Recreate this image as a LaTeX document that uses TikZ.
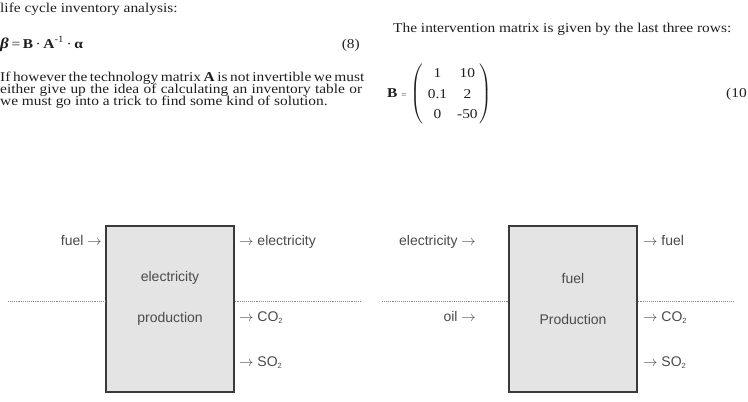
\documentclass[tikz,border=0pt]{standalone}
\usepackage{fontspec}
\usepackage{amsmath}
\usepackage{xcolor}
\setmainfont{Liberation Serif}[FakeStretch=1.14]
\newfontfamily\labelfont{Liberation Sans}
\definecolor{boxgray}{HTML}{E4E4E4}
\definecolor{edgegray}{HTML}{3A3A3A}
\definecolor{txtgray}{HTML}{4A4A4A}
\definecolor{dotgray}{HTML}{8A8A8A}
\definecolor{inkgray}{HTML}{1E1E1E}
\newcommand{\subtwo}{\raisebox{-2.5pt}{\fontsize{7.5}{8}\selectfont 2}}
\newcommand{\gap}{\hspace{2.6pt}}

\begin{document}
\begin{tikzpicture}[x=1pt, y=-1pt,
    procbox/.style={draw=edgegray, fill=boxgray, line width=1.3pt,
        minimum width=128pt, minimum height=166pt, inner sep=0pt},
    lbl/.style={inner sep=0pt, text=txtgray,
        font=\labelfont\fontsize{14}{16}\selectfont},
    txt/.style={inner sep=0pt, anchor=base west, text=inkgray,
        font=\fontsize{13.5}{15}\selectfont},
    sep/.style={draw=dotgray, line width=0.9pt, densely dotted}]
    \useasboundingbox (0,0) rectangle (748,402);

    % text of the page
    \node[txt] (lcia) at (0,12) {life cycle inventory analysis:};
    \node[txt] (eqbeta) at (0,48) {{\fontsize{15}{15}\selectfont\textbf{\textit{β}}}\gap=\gap\textbf{B}\gap·\gap\textbf{A}\textsuperscript{-1}\gap·\gap\textbf{α}};
    \node[txt, anchor=base east] (eqnum) at (360,48) {(8)};
    \node[txt] (par1) at (0,81) {\makebox[362pt][s]{If however the technology matrix \textbf{A} is not invertible we must}};
    \node[txt] (par2) at (0,93) {\makebox[362pt][s]{either give up the idea of calculating an inventory table or}};
    \node[txt] (par3) at (0,105) {we must go into a trick to find some kind of solution.};

    \node[txt] (interv) at (393,32) {The intervention matrix is given by the last three rows:};
    \node[txt, anchor=west] (matB) at (387,94) {\textbf{B} {\footnotesize =}
        $\left(\vcenter{\hbox{\renewcommand{\arraystretch}{1.35}%
        \begin{tabular}{@{\hspace{5pt}}c@{\hspace{10pt}}c@{\hspace{2pt}}}
            1 & 10\\ 0.1 & 2\\ 0 & -50
        \end{tabular}}}\right)$};
    \node[txt] (matnum) at (726,97) {(10};

    % Electricity production
    \node[procbox] (elec) at (170,309) {};
    \node[lbl] (elecA) at (170,278) {electricity};
    \node[lbl] (elecB) at (170,319) {production};
    \node[lbl, anchor=mid east] (fuelin) at (102,243) {fuel $\rightarrow$};
    \node[lbl, anchor=mid west] (elecout) at (239,243) {$\rightarrow$ electricity};
    \node[lbl, anchor=mid west] (coA) at (239,319) {$\rightarrow$ CO\subtwo};
    \node[lbl, anchor=mid west] (soA) at (239,364) {$\rightarrow$ SO\subtwo};

    % Fuel production
    \node[procbox] (fuelp) at (573,309) {};
    \node[lbl] (fuelA) at (573,278) {fuel};
    \node[lbl] (fuelB) at (573,319) {Production};
    \node[lbl, anchor=mid east] (elecin) at (476,243) {electricity $\rightarrow$};
    \node[lbl, anchor=mid east] (oilin) at (476,319) {oil $\rightarrow$};
    \node[lbl, anchor=mid west] (fuelout) at (643,243) {$\rightarrow$ fuel};
    \node[lbl, anchor=mid west] (coB) at (643,319) {$\rightarrow$ CO\subtwo};
    \node[lbl, anchor=mid west] (soB) at (643,364) {$\rightarrow$ SO\subtwo};

    % cut between economy and environment
    \coordinate (cutA) at (8,301);
    \coordinate (cutB) at (361,301);
    \coordinate (cutC) at (382,301);
    \coordinate (cutD) at (733,301);
    \draw[sep] (cutA) -- (cutA -| elec.west);
    \draw[sep] (elec.east |- cutB) -- (cutB);
    \draw[sep] (cutC) -- (cutC -| fuelp.west);
    \draw[sep] (fuelp.east |- cutD) -- (cutD);
\end{tikzpicture}
\end{document}
